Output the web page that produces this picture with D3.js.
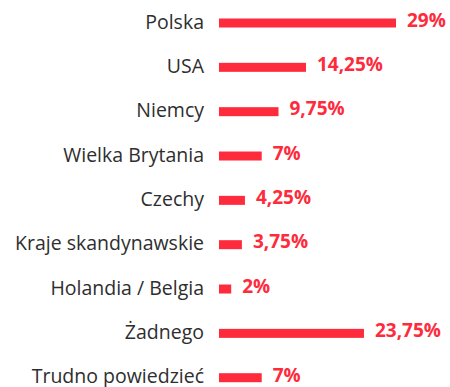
<!DOCTYPE html>
<html>
<head>
<meta charset="utf-8">
<script src="https://cdn.jsdelivr.net/npm/d3@7"></script>
<style>
  html, body { margin: 0; padding: 0; background: #fff; }
  svg { display: block; }
</style>
</head>
<body>
<svg id="chart" width="450" height="387"></svg>
<script>
// Kierunki — odpowiedzi w procentach
const categories = [
  "Polska", "USA", "Niemcy", "Wielka Brytania", "Czechy",
  "Kraje skandynawskie", "Holandia / Belgia", "Żadnego", "Trudno powiedzieć"
];
const values = [29, 14.25, 9.75, 7, 4.25, 3.75, 2, 23.75, 7];
const valueLabels = ["29%", "14,25%", "9,75%", "7%", "4,25%", "3,75%", "2%", "23,75%", "7%"];

const svg = d3.select("#chart");
const barColor = "#fe2b3c";
const textColor = "#2e2e2e";
const fontFamily = "'Open Sans', sans-serif";

const x = d3.scaleLinear().domain([0, 29]).range([219, 396]);
const y = d3.scalePoint().domain(categories).range([23, 377.7]);
const barH = 9;

const rows = svg.selectAll("g.row")
  .data(categories.map((c, i) => ({ c, v: values[i], t: valueLabels[i] })))
  .join("g")
  .attr("class", "row");

rows.append("rect")
  .attr("x", x(0))
  .attr("y", d => y(d.c) - barH / 2)
  .attr("width", d => x(d.v) - x(0))
  .attr("height", barH)
  .attr("fill", barColor);

// category names, right-aligned before the bars
rows.append("text")
  .attr("x", 204)
  .attr("y", d => y(d.c) + 5.5)
  .attr("text-anchor", "end")
  .attr("font-family", fontFamily)
  .attr("font-size", 19.5)
  .attr("fill", textColor)
  .text(d => d.c);

// percentage labels after each bar
rows.append("text")
  .attr("x", d => x(d.v) + 11)
  .attr("y", d => y(d.c) + 3.8)
  .attr("font-family", fontFamily)
  .attr("font-weight", 700)
  .attr("font-size", 19)
  .attr("fill", barColor)
  .text(d => d.t);
</script>
</body>
</html>
